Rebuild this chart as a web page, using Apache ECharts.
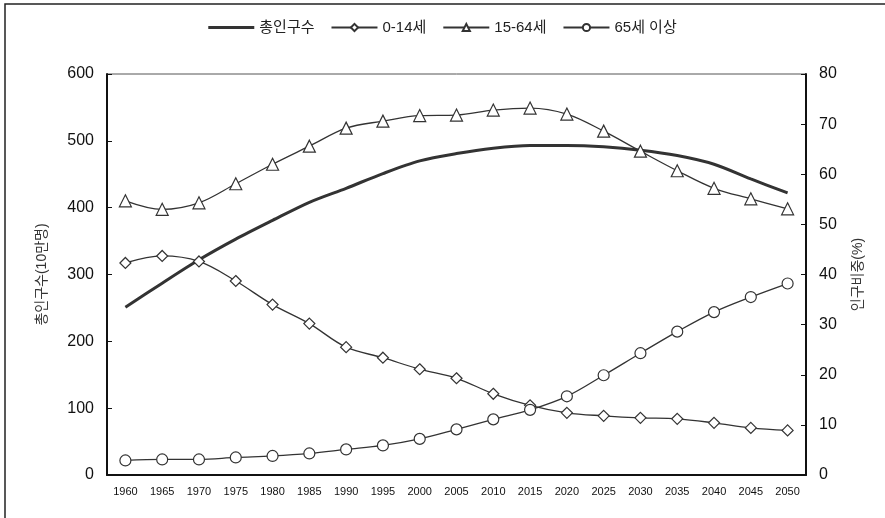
<!DOCTYPE html>
<html><head><meta charset="utf-8">
<script src="https://cdn.jsdelivr.net/npm/echarts@6/dist/echarts.min.js"></script>
<style>html,body{margin:0;padding:0;background:#fff}#c{width:885px;height:518px}</style>
</head><body><div id="c"></div>
<script>
const years = ['1960','1965','1970','1975','1980','1985','1990','1995','2000','2005','2010','2015','2020','2025','2030','2035','2040','2045','2050'];
const totalPop = [251, 287, 322, 353, 381, 408, 429, 451, 470, 481, 489, 493, 493, 491, 486, 478, 465, 443, 422];
const age0_14 = [42.3, 43.7, 42.6, 38.7, 34.0, 30.2, 25.5, 23.4, 21.1, 19.3, 16.2, 13.9, 12.4, 11.8, 11.4, 11.2, 10.4, 9.4, 8.9];
const age15_64 = [54.7, 53.0, 54.3, 58.1, 62.0, 65.6, 69.2, 70.6, 71.7, 71.8, 72.8, 73.2, 72.0, 68.6, 64.6, 60.7, 57.2, 55.1, 53.1];
const age65 = [2.9, 3.1, 3.1, 3.5, 3.8, 4.3, 5.1, 5.9, 7.2, 9.1, 11.1, 13.0, 15.7, 19.9, 24.3, 28.6, 32.5, 35.5, 38.2];
const legendNames = ['총인구수', '0-14세', '15-64세', '65세 이상'];
const leftTicks = {min: 0, max: 600, interval: 100};
const rightTicks = {min: 0, max: 80, interval: 10};

const font = '"Liberation Sans", Arial, "Noto Sans CJK KR", sans-serif';
const dark = '#333';
const chart = echarts.init(document.getElementById('c'), null, {renderer: 'canvas'});
const mk = (name, data, sym) => ({
  name, type: 'line', yAxisIndex: 1, data, smooth: 0.35,
  symbol: sym, symbolSize: sym === 'triangle' ? 12 : 11,
  lineStyle: {color: dark, width: 1.3},
  itemStyle: {color: '#fff', borderColor: dark, borderWidth: 1.2},
  z: 3
});
chart.setOption({
  animation: false,
  backgroundColor: '#fff',
  textStyle: {fontFamily: font},
  graphic: [
    {type: 'rect', shape: {x: 5, y: 4, width: 1000, height: 1000}, style: {fill: 'none', stroke: '#222', lineWidth: 1.5}, z: 0}
  ],
  legend: {
    top: 15, left: 'center', itemWidth: 46, itemHeight: 9, itemGap: 16,
    textStyle: {fontSize: 15, color: '#222', fontFamily: font},
    data: [
      {name: legendNames[0], icon: 'path://M0,4 L40,4 L40,6.5 L0,6.5 Z'},
      {name: legendNames[1]}, {name: legendNames[2]}, {name: legendNames[3]}
    ]
  },
  grid: {left: 107, right: 79, top: 74, bottom: 43, show: true, borderColor: '#555', borderWidth: 1},
  xAxis: {
    type: 'category', data: years, boundaryGap: true,
    axisLine: {lineStyle: {color: '#111', width: 2}},
    axisTick: {inside: true, length: 5, lineStyle: {color: '#111'}},
    axisLabel: {color: '#111', fontSize: 11, margin: 11, interval: 0, fontFamily: font}
  },
  yAxis: [
    {type: 'value', min: leftTicks.min, max: leftTicks.max, interval: leftTicks.interval,
     name: '총인구수(10만명)', nameLocation: 'middle', nameGap: 58, nameRotate: 90,
     nameTextStyle: {fontSize: 14, color: '#333', fontFamily: font},
     axisLine: {show: true, lineStyle: {color: '#111', width: 2}},
     axisTick: {show: true, inside: true, length: 5, lineStyle: {color: '#111'}},
     axisLabel: {color: '#111', fontSize: 16, margin: 13},
     splitLine: {show: false}},
    {type: 'value', min: rightTicks.min, max: rightTicks.max, interval: rightTicks.interval, position: 'right',
     name: '인구비중(%)', nameLocation: 'middle', nameGap: 45, nameRotate: 90,
     nameTextStyle: {fontSize: 14, color: '#333', fontFamily: font},
     axisLine: {show: true, lineStyle: {color: '#111', width: 2}},
     axisTick: {show: true, inside: true, length: 5, lineStyle: {color: '#111'}},
     axisLabel: {color: '#111', fontSize: 16, margin: 13},
     splitLine: {show: false}}
  ],
  series: [
    {name: legendNames[0], type: 'line', yAxisIndex: 0, data: totalPop, smooth: 0.3, symbol: 'none',
     lineStyle: {color: dark, width: 3}, itemStyle: {color: dark}, z: 2},
    mk(legendNames[1], age0_14, 'diamond'),
    mk(legendNames[2], age15_64, 'triangle'),
    mk(legendNames[3], age65, 'circle')
  ]
});
</script></body></html>
